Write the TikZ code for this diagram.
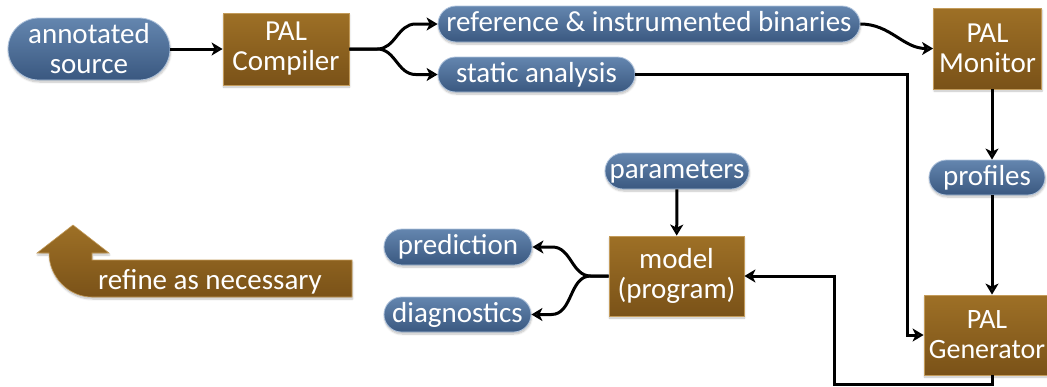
\documentclass[tikz,border=0pt]{standalone}
\usepackage{fontspec}
\setmainfont{Carlito}
\usetikzlibrary{arrows.meta,shadows.blur}

\definecolor{pillTop}{RGB}{100,134,175}
\definecolor{pillBot}{RGB}{58,88,128}
\definecolor{pillEdge}{RGB}{175,195,220}
\definecolor{boxTop}{RGB}{158,112,38}
\definecolor{boxBot}{RGB}{122,82,24}
\definecolor{boxEdge}{RGB}{195,155,90}

\tikzset{
  softshadow/.style={blur shadow={shadow xshift=0.5pt, shadow yshift=-2pt,
      shadow opacity=25, shadow blur steps=6}},
  pill/.style={rectangle, rounded corners=#1, top color=pillTop, bottom color=pillBot,
      draw=pillEdge, line width=0.8pt, text=white, inner sep=0pt, align=center, softshadow},
  oneline/.style={text height=18pt, text depth=3pt},
  procbox/.style={rectangle, top color=boxTop, bottom color=boxBot, draw=boxEdge,
      line width=0.8pt, text=white, inner sep=0pt, align=center, softshadow},
  conn/.style={line width=3pt, -{Stealth[length=11pt,width=13pt,inset=3pt]}},
}

\begin{document}
\begin{tikzpicture}[x=1pt, y=-1pt, font=\fontsize{29}{30}\selectfont]
\useasboundingbox (0,0) rectangle (1047,386);
\clip (0,0) rectangle (1047,386);

% inputs and tools of the top row
\node[pill=31pt, minimum width=162pt, minimum height=62pt] (src) at (89,49) {annotated\\source};
\node[procbox, minimum width=126pt, minimum height=72pt] (comp) at (286,49) {PAL\\Compiler};
\node[pill=18pt, oneline, minimum width=422pt, minimum height=36pt] (ref) at (649,24) {reference \& instrumented binaries};
\node[pill=17.5pt, oneline, minimum width=197pt, minimum height=35pt] (sa) at (536.5,74.5) {static analysis};
\node[procbox, minimum width=108pt, minimum height=81pt] (mon) at (987.5,48.5) {PAL\\Monitor};

% right column; the data path runs down x = 992
\coordinate (col) at (992,0);
\node[pill=17.5pt, oneline, minimum width=116pt, minimum height=35pt] (prof) at (987,177.5) {profiles};
\node[procbox, minimum width=126pt, minimum height=80pt,
      font=\fontsize{28}{30}\selectfont] (gen) at (987,335) {PAL\\Generator};

% generated model and its outputs
\node[procbox, minimum width=135pt, minimum height=80pt] (model) at (676.5,276) {model\\(program)};
\node[pill=18pt, oneline, minimum width=144pt, minimum height=36pt] (par) at (677,171) {parameters};
\node[pill=18pt, oneline, minimum width=148pt, minimum height=36pt] (pred) at (458,247) {prediction};
\node[pill=17.5pt, oneline, minimum width=147pt, minimum height=35pt] (diag) at (457.5,314.5) {diagnostics};

% refinement arrow
\path[top color=boxTop, bottom color=boxBot, draw=boxEdge, line width=0.6pt, softshadow]
  (73,225) -- (109,253) -- (92,253) -- (92,260) -- (352,260) -- (352,297) -- (92,297)
  .. controls (68.3,297) and (49,276.7) .. (49,253) -- (37,253) -- cycle;
\node[text=white, anchor=base] (refine) at (210,289) {refine as necessary};

% connectors
\draw[conn] (src) -- (comp);
\draw[conn] (comp.east) -- ++(28,0) to[out=0,in=180] ([xshift=-22pt]ref.west) -- (ref.west);
\draw[conn] (comp.east) -- ++(28,0) to[out=0,in=180] ([xshift=-22pt]sa.west) -- (sa.west);
\draw[conn] (ref.east) to[out=0,in=180] (mon.west);
\draw[conn] (sa.east) -| ([xshift=-16pt]gen.west) -- (gen.west);
\draw[conn] (mon.south -| col) -- (prof.north -| col);
\draw[conn] (prof.south -| col) -- (col |- gen.north);
\coordinate (back) at (834,384);
\draw[conn] (col |- gen.south) |- (back) |- (model.east);
\draw[conn] (par) -- (model);
\draw[conn] (model.west) -- ++(-18,0) to[out=180,in=0] ([xshift=20pt]pred.east) -- (pred.east);
\draw[conn] (model.west) -- ++(-18,0) to[out=180,in=0] ([xshift=20pt]diag.east) -- (diag.east);
\end{tikzpicture}
\end{document}
